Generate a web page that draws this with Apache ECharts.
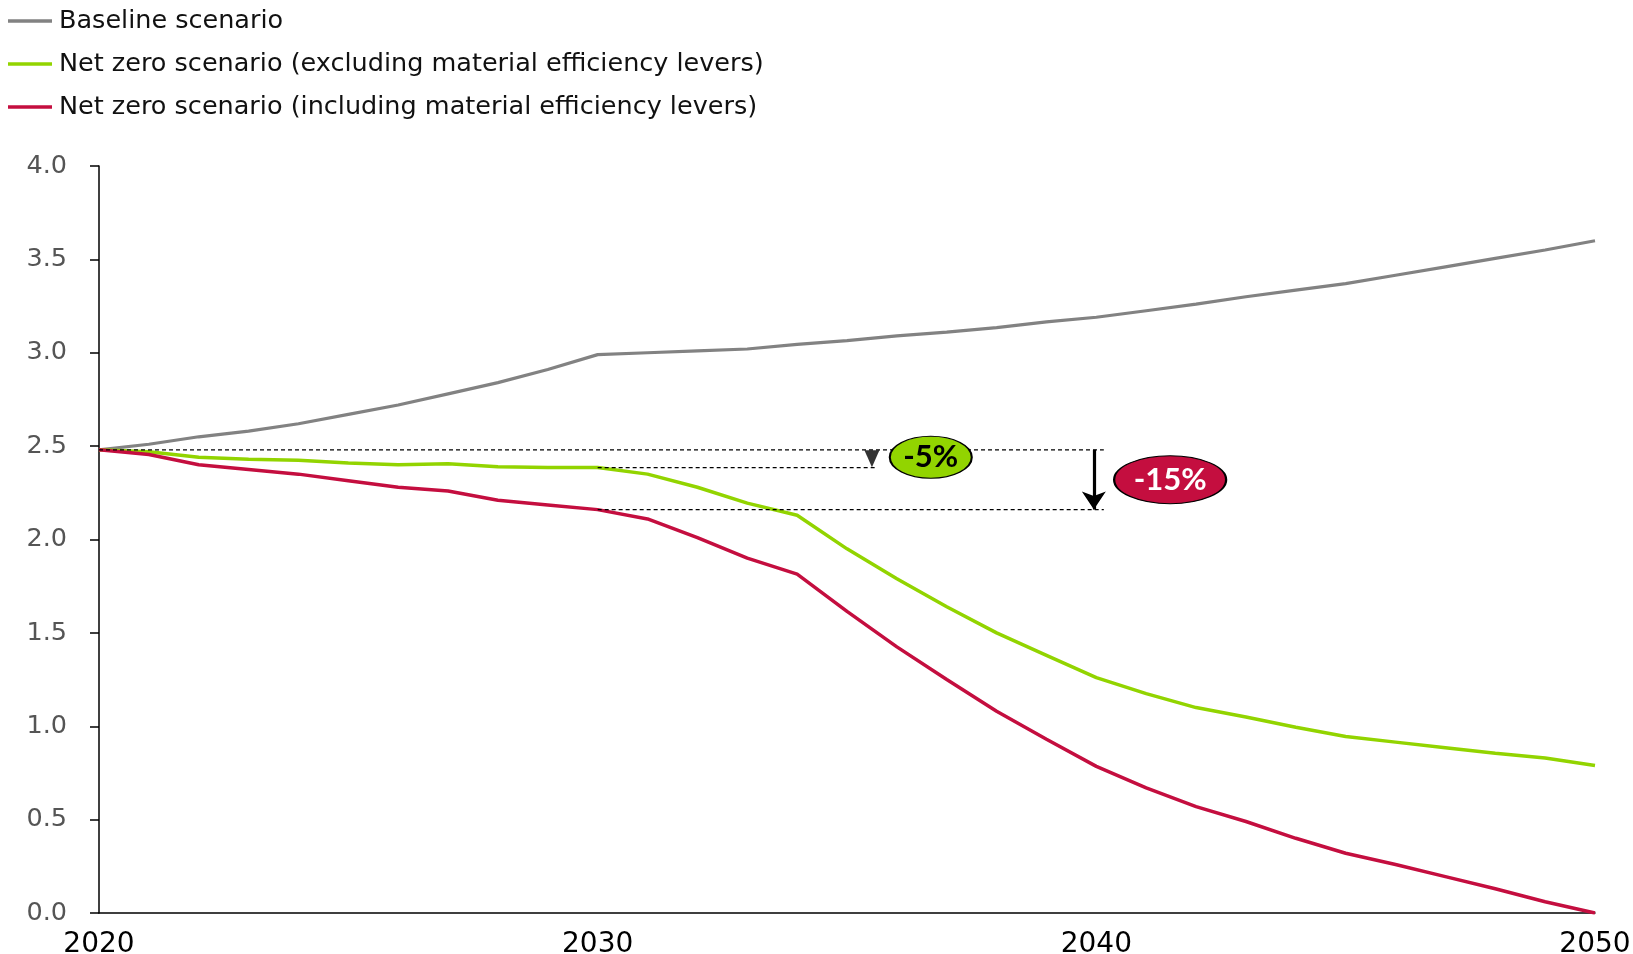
<!DOCTYPE html>
<html>
<head>
<meta charset="utf-8">
<script src="https://cdn.jsdelivr.net/npm/echarts@6/dist/echarts.min.js"></script>
<style>
html,body{margin:0;padding:0;background:#fff;overflow:hidden;}
#chart{width:1633px;height:954px;}
</style>
</head>
<body>
<div id="chart"></div>
<script>
const years = [2020,2021,2022,2023,2024,2025,2026,2027,2028,2029,2030,2031,2032,2033,2034,2035,2036,2037,2038,2039,2040,2041,2042,2043,2044,2045,2046,2047,2048,2049,2050];
const baseline = [2.48,2.51,2.55,2.58,2.62,2.67,2.72,2.78,2.84,2.91,2.99,3.00,3.01,3.02,3.045,3.065,3.09,3.11,3.135,3.165,3.19,3.225,3.26,3.30,3.335,3.37,3.415,3.46,3.505,3.55,3.60];
const netZeroExcl = [2.48,2.47,2.44,2.43,2.425,2.41,2.40,2.405,2.39,2.385,2.385,2.35,2.28,2.195,2.13,1.95,1.79,1.64,1.50,1.38,1.26,1.175,1.10,1.05,0.995,0.945,0.915,0.885,0.855,0.83,0.79];
const netZeroIncl = [2.48,2.455,2.40,2.375,2.35,2.315,2.28,2.26,2.21,2.185,2.16,2.11,2.01,1.90,1.815,1.615,1.425,1.25,1.08,0.93,0.785,0.67,0.57,0.49,0.40,0.32,0.26,0.195,0.13,0.06,0.0];
const seriesNames = ['Baseline scenario','Net zero scenario (excluding material efficiency levers)','Net zero scenario (including material efficiency levers)'];
const seriesColors = ['#828282','#92D400','#C40E3F'];
const yTicks = [0,0.5,1,1.5,2,2.5,3,3.5,4];
const xTicks = [2020,2030,2040,2050];

// annotation anchors (data units)
const levelStart = 2.48, levelExcl = 2.385, levelIncl = 2.16;
const dashTopSeg = [[2020,levelStart],[2040.15,levelStart]];
const dashExclSeg = [[2030,levelExcl],[2035.6,levelExcl]];
const dashInclSeg = [[2030,levelIncl],[2040.15,levelIncl]];
const arrowSeg = [[2039.95,levelStart],[2039.95,levelIncl]];
const smallTriangle = [2035.5,(levelStart+levelExcl)/2];
const badgeExcl = {pos:[2036.68,2.44], text:'-5%'};
const badgeIncl = {pos:[2041.48,2.32], text:'-15%'};

const pair = (arr) => years.map((y,i)=>[y,arr[i]]);
const ellipsePath = 'path://M0,50A50,50 0 1,0 100,50A50,50 0 1,0 0,50Z';

const dashStyle = {color:'#000', width:1.2, type:[4,3]};

const chart = echarts.init(document.getElementById('chart'), null, {renderer:'canvas'});
chart.setOption({
  animation:false,
  backgroundColor:'#fff',
  legend:{
    data:seriesNames,
    orient:'vertical',
    left:3, top:3,
    itemWidth:44, itemHeight:3.5, itemGap:17,
    icon:'rect',
    textStyle:{fontFamily:'DejaVu Sans', fontSize:25.5, color:'#111', lineHeight:24, padding:[0,0,0,2]}
  },
  grid:{left:99, right:38, top:166, bottom:41, containLabel:false, outerBoundsMode:'none'},
  xAxis:{
    type:'value', min:2020, max:2050, interval:10,
    axisLine:{lineStyle:{color:'#000', width:1.5}},
    axisTick:{show:false},
    splitLine:{show:false},
    axisLabel:{fontFamily:'DejaVu Sans', fontSize:28, color:'#000', margin:18,
      customValues: xTicks, formatter:(v)=>String(v)}
  },
  yAxis:{
    type:'value', min:0, max:4, interval:0.5,
    axisLine:{show:true, lineStyle:{color:'#000', width:1.5}},
    axisTick:{show:true, length:9, lineStyle:{color:'#000', width:1.5}},
    splitLine:{show:false},
    axisLabel:{fontFamily:'DejaVu Sans', fontSize:25.5, color:'#555', margin:32,
      formatter:(v)=>v.toFixed(1)}
  },
  series:[
    {name:seriesNames[0], type:'line', data:pair(baseline), showSymbol:false, symbol:'none',
      lineStyle:{color:seriesColors[0], width:3.2}, itemStyle:{color:seriesColors[0]}, z:2},
    {name:seriesNames[1], type:'line', data:pair(netZeroExcl), showSymbol:false, symbol:'none',
      lineStyle:{color:seriesColors[1], width:3.5}, itemStyle:{color:seriesColors[1]}, z:3},
    {name:seriesNames[2], type:'line', data:pair(netZeroIncl), showSymbol:false, symbol:'none',
      lineStyle:{color:seriesColors[2], width:3.5}, itemStyle:{color:seriesColors[2]}, z:4},
    {name:'dashTop', type:'line', data:dashTopSeg, symbol:'none', lineStyle:dashStyle, silent:true, z:5},
    {name:'dashExcl', type:'line', data:dashExclSeg, symbol:'none', lineStyle:dashStyle, silent:true, z:5},
    {name:'dashIncl', type:'line', data:dashInclSeg, symbol:'none', lineStyle:dashStyle, silent:true, z:5},
    {name:'arrow', type:'lines', coordinateSystem:'cartesian2d', silent:true, z:6,
      symbol:['none','arrow'], symbolSize:[15,18],
      lineStyle:{color:'#000', width:3.2, opacity:1},
      data:[{coords:arrowSeg}]},
    {name:'tri', type:'scatter', data:[smallTriangle], symbol:'triangle', symbolRotate:180,
      symbolSize:[15,17], itemStyle:{color:'#000'}, silent:true, z:6},
    {name:'badgeExcl', type:'scatter', data:[badgeExcl.pos], symbol:ellipsePath, symbolSize:[82,42],
      itemStyle:{color:'#92D400', borderColor:'#000', borderWidth:1.5, opacity:1}, silent:true, z:7,
      label:{show:true, position:'inside', formatter:badgeExcl.text, fontFamily:'Lato', fontWeight:'bold', fontSize:31, color:'#000'}},
    {name:'badgeIncl', type:'scatter', data:[badgeIncl.pos], symbol:ellipsePath, symbolSize:[112,48],
      itemStyle:{color:'#C40E3F', borderColor:'#000', borderWidth:1.5, opacity:1}, silent:true, z:7,
      label:{show:true, position:'inside', formatter:badgeIncl.text, fontFamily:'Lato', fontWeight:'bold', fontSize:31, color:'#fff'}}
  ]
});
</script>
</body>
</html>
